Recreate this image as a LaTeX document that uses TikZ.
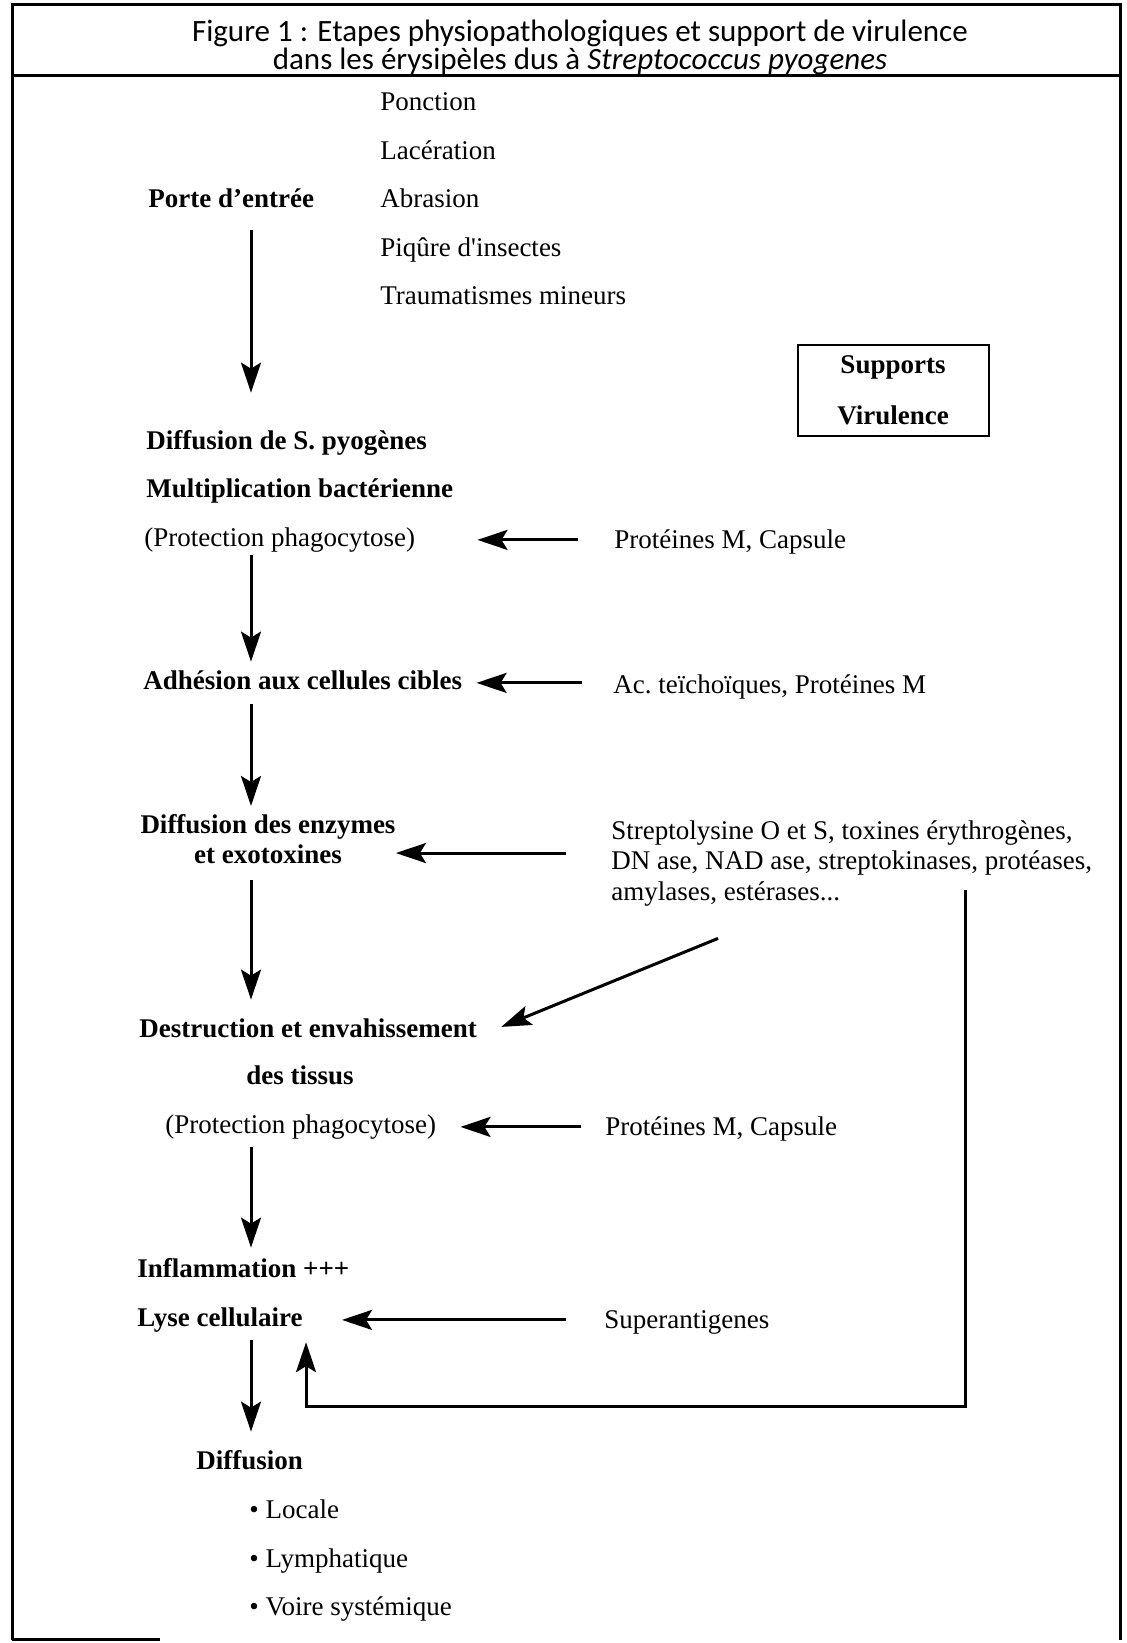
\documentclass[tikz,border=0pt]{standalone}
\usepackage{fontspec}
\setmainfont{Liberation Serif}
\newfontfamily\titrefont{Carlito}
\usetikzlibrary{arrows.meta}
\begin{document}
\begin{tikzpicture}[x=0.5pt,y=-0.5pt,
    every node/.style={inner sep=0pt,font=\fontsize{13.5}{15.25}\selectfont},
    txt/.style={anchor=base west,text height=9.5pt,text depth=3.4pt},
    etape/.style={txt,font=\fontsize{13.5}{15.25}\selectfont\bfseries},
    flow/.style={line width=1.5pt,-{Stealth[length=15pt,width=10pt,inset=3pt]}}]
\useasboundingbox (0,0) rectangle (1126,1643);
% cadre
\draw[line width=1.5pt] (12,1640) -- (12,5) -- (1120,5) -- (1120,1640);
\draw[line width=1.5pt] (12,76) -- (1120,76);
\draw[line width=1.5pt] (12,1639) -- (160,1639);
\path (580,20) node[anchor=north,align=center,font=\titrefont\fontsize{15.5}{14}\selectfont] (titre)
  {Figure 1 : Etapes physiopathologiques et support de virulence\\
   dans les érysipèles dus à \textit{Streptococcus pyogenes}};
% porte d'entree
\path (148,207) node[etape] (porte) {Porte d’entrée}
  (380,111) node[txt] (ponc) {Ponction}
  (380,159) node[txt] (lace) {Lacération}
  (380,207) node[txt] (abra) {Abrasion}
  (380,256) node[txt] (piqu) {Piqûre d\textquotesingle insectes}
  (380,304) node[txt] (trau) {Traumatismes mineurs};
\path (893,390) node[draw,line width=1pt,minimum width=95.5pt,minimum height=45.5pt,
    align=center,font=\fontsize{13.5}{25.5}\selectfont\bfseries] (supp) {Supports\\Virulence};
% etapes
\path (146,449) node[etape] (diffS) {Diffusion de S. pyogènes}
  (146,497) node[etape] (multi) {Multiplication bactérienne}
  (144,546) node[txt] (phago1) {(Protection phagocytose)}
  (614,548) node[txt] (protM1) {Protéines M, Capsule}
  (143,689) node[etape] (adh) {Adhésion aux cellules cibles}
  (613,693) node[txt] (acT) {Ac.\ teïchoïques, Protéines M}
  (268,814) node[anchor=north,align=center,font=\fontsize{13.5}{15}\selectfont\bfseries] (enz)
    {Diffusion des enzymes\\et exotoxines}
  (611,820) node[anchor=north west,align=left,font=\fontsize{13.5}{15.25}\selectfont] (strep)
    {Streptolysine O et S, toxines érythrogènes,\\DN ase, NAD ase, streptokinases, protéases,\\amylases, estérases...}
  (139,1037) node[etape] (destr) {Destruction et envahissement}
  (300,1084) node[etape,anchor=base] (tissus) {des tissus}
  (165,1133) node[txt] (phago2) {(Protection phagocytose)}
  (605,1135) node[txt] (protM2) {Protéines M, Capsule}
  (137,1277) node[etape] (infl) {Inflammation +++}
  (137,1326) node[etape] (lyse) {Lyse cellulaire}
  (604,1328) node[txt] (superA) {Superantigenes}
  (196,1469) node[etape] (diffu) {Diffusion}
  (249,1518) node[txt] (locale) {• Locale}
  (249,1567) node[txt] (lymph) {• Lymphatique}
  (249,1615) node[txt] (voire) {• Voire systémique};
\coordinate (colA) at (251,0);
\coordinate (fb) at (965,890);
% fleches verticales
\draw[flow,shorten <=8pt,shorten >=18.5pt] (porte.south -| colA) -- (diffS.north -| colA);
\draw[flow,shorten <=1pt,shorten >=4pt] (phago1.south -| colA) -- (adh.north -| colA);
\draw[flow,shorten <=4pt,shorten >=4pt] (adh.south -| colA) -- (enz.north -| colA);
\draw[flow,shorten <=8pt,shorten >=9pt] (enz.south -| colA) -- (destr.north -| colA);
\draw[flow,shorten <=3.5pt,shorten >=5pt] (phago2.south -| colA) -- (infl.north -| colA);
\draw[flow,shorten <=3.5pt,shorten >=9pt] (lyse.south -| colA) -- (diffu.north -| colA);
% supports
\draw[flow,shorten <=18pt,shorten >=31pt] (phago1.east -| protM1.west) -- (phago1.east);
\draw[flow,shorten <=15.5pt,shorten >=7pt] (adh.east -| acT.west) -- (adh.east);
\draw[flow,shorten <=22.5pt] ([yshift=-7pt]enz.east -| strep.west) -- ([yshift=-7pt]enz.east);
\draw[flow] ([xshift=53.5pt,yshift=-16pt]strep.south west) -- ([xshift=12pt,yshift=2pt]destr.east);
\draw[flow,shorten <=12pt,shorten >=12pt] (phago2.east -| protM2.west) -- (phago2.east);
\draw[flow,shorten <=19pt,shorten >=19.5pt] (lyse.east -| superA.west) -- (lyse.east);
\draw[flow] (fb) -- ++(0,516) -| ([xshift=1.5pt,yshift=-4.5pt]lyse.south east);
\end{tikzpicture}
\end{document}
